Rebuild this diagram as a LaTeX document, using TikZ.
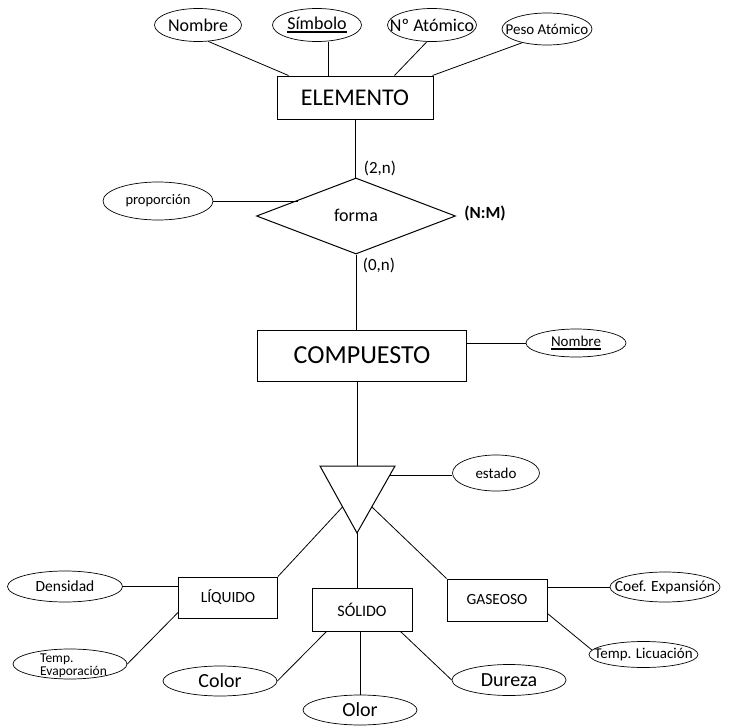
\documentclass[tikz,border=0pt]{standalone}
\usepackage{fontspec}
\setmainfont{Carlito}
\usetikzlibrary{shapes.geometric,calc}
\newcommand{\fsz}[1]{\fontsize{#1}{#1}\selectfont}
\newcommand{\zw}[1]{\makebox[0pt]{#1}}
\newcommand{\thul}[1]{\leavevmode\setbox0\hbox{#1}\rlap{\copy0}\rule[-2.8pt]{\wd0}{1.6pt}}
\begin{document}
\begin{tikzpicture}[x=1pt,y=-1pt,
  ent/.style={draw, rectangle, inner sep=0pt, line width=1pt},
  attr/.style={draw, ellipse, inner sep=0pt, line width=0.7pt},
  rel/.style={draw, diamond, inner sep=0pt, line width=1pt},
  conn/.style={line width=0.8pt},
  lbl/.style={inner sep=0pt}]
\useasboundingbox (0,0) rectangle (732,728);

% ELEMENTO and attributes
\node[ent, minimum width=156pt, minimum height=43pt] (elem) at (355,97.5) {\fsz{24}ELEMENTO};
\node[attr, minimum width=87pt, minimum height=33pt] (nom1) at (198,25) {\zw{\fsz{18}Nombre}};
\node[attr, minimum width=89pt, minimum height=33pt] (sim) at (317,25) {\zw{\fsz{18}\thul{Símbolo}}};
\node[attr, minimum width=89pt, minimum height=33pt] (nat) at (432,25) {\zw{\fsz{18}Nº Atómico}};
\node[attr, minimum width=90pt, minimum height=32pt] (peso) at (547,29) {\zw{\fsz{15}Peso Atómico}};

\draw[conn] (nom1.-58) -- ([xshift=12pt]elem.north west);
\draw[conn] ([xshift=11pt]sim.south) -- ([xshift=11pt]sim.south |- elem.north);
\draw[conn] (nat.-107) -- ([xshift=-39pt]elem.north east);
\draw[conn] (peso.-151) -- ([xshift=-1pt]elem.north east);

% relationship
\node[rel, minimum width=199pt, minimum height=76pt] (dia) at (356,216) {\raisebox{2pt}{\fsz{18}forma}};
\node[lbl] (c1) at (380,168) {\fsz{17}(2,n)};
\node[lbl] (c2) at (379,265) {\fsz{17}(0,n)};
\node[lbl] (nm) at (485,213) {\fsz{17}\bfseries (N:M)};
\node[attr, minimum width=110pt, minimum height=38pt] (prop) at (158,201) {\zw{\fsz{14.5}proporción}};
\coordinate (pd) at ($(dia.west)!0.42!(dia.north)$);
\draw[conn] (prop.east) -- (prop.east -| pd);
\draw[conn] (elem.south) -- (elem.south |- dia.north);

% COMPUESTO
\node[ent, minimum width=209pt, minimum height=51pt] (comp) at (362,355.5) {\fsz{26}COMPUESTO};
\node[attr, minimum width=100pt, minimum height=28pt] (nom2) at (576,343) {\zw{\fsz{15}\thul{Nombre}}};
\draw[conn] (dia.south) -- (dia.south |- comp.north);
\draw[conn] (nom2.west -| comp.east) -- (nom2.west);

% specialization triangle
\coordinate (tl) at (320,466);
\coordinate (tr) at (395,466);
\coordinate (tb) at (357,533);
\coordinate (tt) at (357,466);
\draw[line width=1pt, line join=miter] (tl) -- (tr) -- (tb) -- cycle;
\draw[conn] (tt |- comp.south) -- (tt);
\node[attr, minimum width=87pt, minimum height=36pt] (est) at (496,473) {\zw{\fsz{15}estado}};
\coordinate (te) at ($(tr)!0.134!(tb)$);
\draw[conn] (te) -- (te -| est.west);

% subtypes
\node[ent, minimum width=99pt, minimum height=41pt] (liq) at (228,597.5) {\fsz{15.5}LÍQUIDO};
\node[ent, minimum width=100pt, minimum height=43pt] (sol) at (362,609.5) {\fsz{16}SÓLIDO};
\node[ent, minimum width=100pt, minimum height=42pt] (gas) at (497,600) {\fsz{15.5}GASEOSO};
\coordinate (tlq) at ($(tl)!0.61!(tb)$);
\coordinate (tgs) at ($(tr)!0.61!(tb)$);
\draw[conn] (tlq) -- (liq.north east);
\draw[conn] (tb) -- (tb |- sol.north);
\draw[conn] (tgs) -- (gas.north west);

% LIQUIDO attributes
\node[attr, minimum width=115pt, minimum height=31pt] (dens) at (65,586.5) {\zw{\fsz{15.5}Densidad}};
\node[attr, minimum width=114pt, minimum height=30pt] (tev) at (70,664) {};
\node[lbl, align=left] (tevt) at (73.5,665.5) {\fsz{13.5}Temp.\\[1pt]\fsz{13.5}Evaporación};
\draw[conn] (dens.east) -- (dens.east -| liq.west);
\draw[conn] ([yshift=6pt]liq.south west) -- (tev.east);

% GASEOSO attributes
\node[attr, minimum width=110pt, minimum height=30pt] (coef) at (665,587) {\zw{\fsz{15.5}Coef. Expansión}};
\node[attr, minimum width=109pt, minimum height=26pt] (tlic) at (643.5,654.5) {\zw{\fsz{15}Temp. Licuación}};
\draw[conn] (coef.west -| gas.east) -- (coef.west);
\draw[conn] ([yshift=8pt]gas.south east) -- (tlic.175);

% SOLIDO attributes
\node[attr, minimum width=114pt, minimum height=30pt] (color) at (220,681) {\zw{\fsz{20}Color}};
\node[attr, minimum width=114pt, minimum height=30pt] (olor) at (360,710) {\zw{\fsz{20}Olor}};
\node[attr, minimum width=114pt, minimum height=31pt] (dur) at (509,680) {\zw{\fsz{20}Dureza}};
\draw[conn] ([xshift=15pt]sol.south west) -- (color.east);
\draw[conn] (olor.north |- sol.south) -- (olor.north);
\draw[conn] ([xshift=-12pt]sol.south east) -- (dur.west);
\end{tikzpicture}
\end{document}
